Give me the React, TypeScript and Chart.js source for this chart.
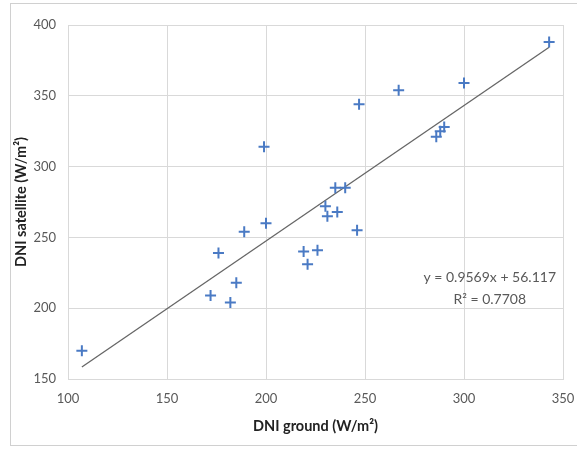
import React, { useEffect, useRef } from "react";
import { Chart, registerables } from "chart.js";

Chart.register(...registerables);

const groundDNI = [107, 172, 176, 182, 185, 189, 199, 200, 219, 221, 226, 230, 231, 235, 236, 240, 246, 247, 267, 286, 288, 290, 300, 343];
const satelliteDNI = [170, 209, 239, 204, 218, 254, 314, 260, 240, 231, 241, 272, 265, 285, 268, 285, 255, 344, 354, 321, 325, 328, 359, 388];
const trendSlope = 0.9569;
const trendIntercept = 56.117;
const trendR2 = 0.7708;
const xTicks = [100, 150, 200, 250, 300, 350];
const yTicks = [150, 200, 250, 300, 350, 400];

const FONT = "Lato, 'Liberation Sans', sans-serif";
const TEXT_COLOR = "#595959";
const GRID_COLOR = "#d9d9d9";

export default function App() {
  const ref = useRef<HTMLCanvasElement | null>(null);

  useEffect(() => {
    if (!ref.current) return;
    const points = groundDNI.map((x, i) => ({ x, y: satelliteDNI[i] }));
    const xMin = Math.min(...groundDNI);
    const xMax = Math.max(...groundDNI);
    const trend = [
      { x: xMin, y: trendSlope * xMin + trendIntercept },
      { x: xMax, y: trendSlope * xMax + trendIntercept },
    ];

    const framePlugin = {
      id: "frame",
      beforeDraw(chart: any) {
        const ctx = chart.ctx;
        ctx.save();
        ctx.fillStyle = "#ffffff";
        ctx.fillRect(0, 0, chart.width, chart.height);
        ctx.strokeStyle = "#d0d0d0";
        ctx.lineWidth = 1;
        ctx.strokeRect(10.5, 3.5, chart.width, 442);
        ctx.restore();
      },
      afterDatasetsDraw(chart: any) {
        const ctx = chart.ctx;
        const xs = chart.scales.x;
        const ys = chart.scales.y;
        const cx = xs.getPixelForValue(313);
        const cy = ys.getPixelForValue(222);
        ctx.save();
        ctx.fillStyle = TEXT_COLOR;
        ctx.font = `14px ${FONT}`;
        ctx.textAlign = "center";
        ctx.textBaseline = "middle";
        ctx.fillText(`y = ${trendSlope}x + ${trendIntercept}`, cx, cy);
        ctx.fillText(`R² = ${trendR2}`, cx, cy + 22);
        ctx.restore();
      },
    };

    const chart = new Chart(ref.current, {
      type: "scatter",
      data: {
        datasets: [
          {
            label: "DNI",
            data: points,
            pointStyle: "cross",
            pointRadius: 5.5,
            pointBorderWidth: 2,
            borderColor: "#4a7ac4",
            backgroundColor: "#4a7ac4",
            showLine: false,
          },
          {
            label: "Linear",
            type: "line",
            data: trend,
            borderColor: "#666666",
            borderWidth: 1.3,
            pointRadius: 0,
            fill: false,
          } as any,
        ],
      },
      options: {
        responsive: false,
        animation: false,
        layout: { padding: { top: 25, right: 14, bottom: 0, left: 0 } },
        plugins: {
          legend: { display: false },
          tooltip: { enabled: false },
        },
        scales: {
          x: {
            type: "linear",
            min: 100,
            max: 350,
            afterBuildTicks(scale: any) {
              scale.ticks = xTicks.map((v) => ({ value: v }));
            },
            afterFit(scale: any) {
              scale.height = 70;
              scale.paddingLeft = 0;
              scale.paddingRight = 0;
            },
            grid: { color: GRID_COLOR, drawTicks: false, lineWidth: 1 },
            border: { color: GRID_COLOR },
            ticks: {
              padding: 12,
              color: TEXT_COLOR,
              font: { family: FONT, size: 13 },
            },
            title: {
              display: true,
              text: "DNI ground (W/m²)",
              color: "#222222",
              font: { family: FONT, size: 14.5, weight: "bold" },
              padding: { top: 0, bottom: 14 },
            },
          },
          y: {
            type: "linear",
            min: 150,
            max: 400,
            afterBuildTicks(scale: any) {
              scale.ticks = yTicks.map((v) => ({ value: v }));
            },
            afterFit(scale: any) {
              scale.width = 68;
              scale.paddingTop = 0;
              scale.paddingBottom = 0;
            },
            grid: { color: GRID_COLOR, drawTicks: false, lineWidth: 1 },
            border: { color: GRID_COLOR },
            ticks: {
              padding: 12,
              color: TEXT_COLOR,
              font: { family: FONT, size: 13 },
            },
            title: {
              display: true,
              text: "DNI satellite (W/m²)",
              color: "#222222",
              font: { family: FONT, size: 14.5, weight: "bold" },
              padding: { top: 13, bottom: 0 },
            },
          },
        },
      },
      plugins: [framePlugin],
    });
    return () => chart.destroy();
  }, []);

  return (
    <div style={{ position: "absolute", left: 0, top: 0, width: 577, height: 449 }}>
      <canvas ref={ref} width={577} height={449} style={{ display: "block" }} />
    </div>
  );
}
